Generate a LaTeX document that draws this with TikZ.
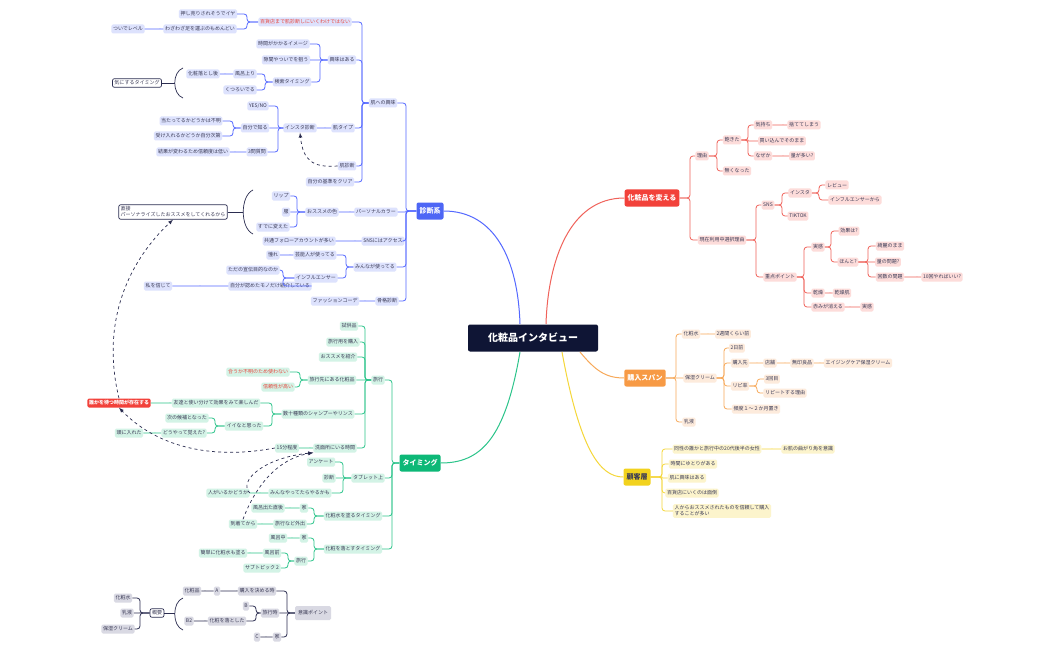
\documentclass[tikz,border=0pt]{standalone}
\usepackage{fontspec}
\setmainfont{Noto Sans CJK JP}
\usetikzlibrary{calc}
\definecolor{BL}{HTML}{5468FF}\definecolor{BF}{HTML}{DDE2FD}\definecolor{BM}{HTML}{4D66F5}
\definecolor{RL}{HTML}{F0625A}\definecolor{RF}{HTML}{FDDCDA}\definecolor{RM}{HTML}{F2413A}
\definecolor{OL}{HTML}{F7A95A}\definecolor{OF}{HTML}{FDEBDC}\definecolor{OM}{HTML}{F79A45}
\definecolor{YL}{HTML}{F5D73A}\definecolor{YF}{HTML}{FCF4CC}\definecolor{YM}{HTML}{F2D21E}
\definecolor{GL}{HTML}{2BC48A}\definecolor{GF}{HTML}{D3F3E6}\definecolor{GM}{HTML}{0DB877}
\definecolor{KL}{HTML}{2B2D50}\definecolor{KF}{HTML}{D9D9E3}\definecolor{CC}{HTML}{0F1535}
\definecolor{TX}{HTML}{3A3A55}\definecolor{TR}{HTML}{E8453C}
\newcommand\Lk[4]{\draw[#1] let \p1=(#2.west),\p2=(#3.east),\n1={abs(\y1-\y2)<1.5 ? 0.01 : 3} in [rounded corners=\n1] (\p1) -- (#4pt,\y1) -- (#4pt,\y2) -- (\p2);}
\newcommand\Rk[4]{\draw[#1] let \p1=(#2.east),\p2=(#3.west),\n1={abs(\y1-\y2)<1.5 ? 0.01 : 3} in [rounded corners=\n1] (\p1) -- (#4pt,\y1) -- (#4pt,\y2) -- (\p2);}
\begin{document}
\begin{tikzpicture}[x=1pt,y=-1pt,
 nd/.style={rounded corners=1.5pt,inner sep=1.6pt,minimum height=9pt,text=TX,font=\fontsize{5}{6}\selectfont},
 bn/.style={nd,fill=BF}, rn/.style={nd,fill=RF}, on/.style={nd,fill=OF}, yn/.style={nd,fill=YF}, gn/.style={nd,fill=GF}, kn/.style={nd,fill=KF},
 tr/.style={text=TR},
 mn/.style={rounded corners=2pt,inner sep=3pt,minimum height=17pt,text=white,font=\fontsize{7}{8}\selectfont\bfseries},
 bx/.style={draw=KL,line width=0.7pt,rounded corners=2pt,fill=white,inner sep=2pt,text=TX,font=\fontsize{5}{6}\selectfont},
 bl/.style={draw=BL,line width=0.8pt},
 rl/.style={draw=RL,line width=0.8pt},
 ol/.style={draw=OL,line width=0.8pt},
 yl/.style={draw=YL,line width=0.8pt},
 gl/.style={draw=GL,line width=0.8pt},
 kl/.style={draw=KL,line width=0.8pt},
 da/.style={draw=KL,line width=0.7pt,dashed,-latex}]
\useasboundingbox[fill=white] (0,0) rectangle (1050,650);
% center
\node[fill=CC,text=white,rounded corners=2pt,minimum width=130pt,minimum height=27pt,font=\fontsize{10}{12}\selectfont\bfseries] (C) at (533,338) {化粧品インタビュー};
\node[mn,fill=BM] (D) at (430,211) {診断系};
\node[mn,fill=RM] (R) at (652,198) {化粧品を変える};
\node[mn,fill=OM] (O) at (645,378) {購入スパン};
\node[mn,fill=YM,text=TX] (Y) at (637,477) {顧客層};
\node[mn,fill=GM] (T) at (420,463) {タイミング};
\draw[BL,line width=1pt] (D.east) .. controls (495,211) and (518,260) .. (520,324);
\draw[RL,line width=1pt] (R.west) .. controls (570,198) and (548,260) .. (546,324);
\draw[OL,line width=1pt] (580,352) .. controls (595,370) and (605,378) .. (O.west);
\draw[YL,line width=1pt] (562,352) .. controls (580,450) and (600,477) .. (Y.west);
\draw[GL,line width=1pt] (520,352) .. controls (505,440) and (480,463) .. (T.east);
% ===== blue
\node[bn] (b1) at (383,103) {肌への興味};
\node[bn,tr] (b11) at (305,22) {百貨店まで肌診断しにいくわけではない};
\node[bn] (b111) at (208,14) {押し売りされそうでイヤ};
\node[bn] (b112) at (200,29) {わざわざ足を運ぶのもめんどい};
\node[bn] (b1121) at (128,29) {ついでレベル};
\node[bn] (b12) at (342,60) {興味はある};
\node[bn] (b121) at (283,44) {時間がかかるイメージ};
\node[bn] (b122) at (286,60) {隙間やついでを狙う};
\node[bn] (b123) at (292,82) {検索タイミング};
\node[bn] (b1231) at (245,74) {風呂上り};
\node[bn] (b12311) at (203,74) {化粧落とし後};
\node[bn] (b1232) at (240,90) {くつろいでる};
\node[bx] (kb1) at (137,83) {気にするタイミング};
\draw[KL,line width=0.7pt] (183,68) .. controls (172,72) and (172,94) .. (183,98);
\draw[KL,line width=0.7pt] (kb1.east) -- (175,83);
\node[bn] (b13) at (343,128) {肌タイプ};
\node[bn] (b131) at (300,128) {インスタ診断};
\node[bn] (b1311) at (258,106) {YES/NO};
\node[bn] (b1312) at (255,128) {自分で知る};
\node[bn] (b13121) at (191,121) {当たってるかどうかは不明};
\node[bn] (b13122) at (188,136) {受け入れるかどうか自分次第};
\node[bn] (b1313) at (257,152) {3問質問};
\node[bn] (b13131) at (193,152) {結果が変わるため信頼度は低い};
\node[bn] (b14) at (347,166) {肌診断};
\node[bn] (b15) at (330,182) {自分の基準をクリア};
\node[bn] (b2) at (376,212) {パーソナルカラー};
\node[bn] (b21) at (322,212) {おススメの色};
\node[bn] (b211) at (281,196) {リップ};
\node[bn] (b212) at (286,212) {服};
\node[bn] (b213) at (273,227) {すでに変えた};
\node[bx,align=left] (kb2) at (173,212) {直接\\パーソナライズしたおススメをしてくれるから};
\draw[KL,line width=0.7pt] (253,190) .. controls (240,196) and (240,228) .. (253,234);
\draw[KL,line width=0.7pt] (kb2.east) -- (243,212);
\node[bn] (b3) at (383,241) {SNSにはアクセス};
\node[bn] (b31) at (299,241) {共通フォローアカウントが多い};
\node[bn] (b4) at (375,267) {みんなが使ってる};
\node[bn] (b41) at (315,255) {芸能人が使ってる};
\node[bn] (b411) at (273,255) {憧れ};
\node[bn] (b42) at (316,278) {インフルエンサー};
\node[bn] (b421) at (253,270) {ただの宣伝目的なのか};
\node[bn] (b422) at (270,286) {自分が認めたモノだけ紹介している};
\node[bn] (b4221) at (158,286) {私を信じて};
\node[bn] (b5) at (387,301) {骨格診断};
\node[bn] (b51) at (335,301) {ファッションコーデ};
\foreach \c in {b1,b2,b3,b4,b5} {\Lk{bl}{D}{\c}{406}}
\foreach \c in {b11,b12,b13,b14,b15} {\Lk{bl}{b1}{\c}{362}}
\foreach \c in {b111,b112} {\Lk{bl}{b11}{\c}{247}}
\Lk{bl}{b112}{b1121}{160}
\foreach \c in {b121,b122,b123} {\Lk{bl}{b12}{\c}{320}}
\foreach \c in {b1231,b1232} {\Lk{bl}{b123}{\c}{265}}
\Lk{bl}{b1231}{b12311}{225}
\Lk{bl}{b13}{b131}{325}
\foreach \c in {b1311,b1312,b1313} {\Lk{bl}{b131}{\c}{278}}
\foreach \c in {b13121,b13122} {\Lk{bl}{b1312}{\c}{233}}
\Lk{bl}{b1313}{b13131}{235}
\Lk{bl}{b2}{b21}{350}
\foreach \c in {b211,b212,b213} {\Lk{bl}{b21}{\c}{297}}
\Lk{bl}{b3}{b31}{355}
\foreach \c in {b41,b42} {\Lk{bl}{b4}{\c}{346}}
\Lk{bl}{b41}{b411}{290}
\foreach \c in {b421,b422} {\Lk{bl}{b42}{\c}{283}}
\Lk{bl}{b422}{b4221}{200}
\Lk{bl}{b5}{b51}{365}
\draw[da] (b14.west) .. controls (312,168) and (303,160) .. (b131.south);
% ===== green
\node[gn] (g1) at (378,380) {旅行};
\node[gn] (g11) at (349,326) {試供品};
\node[gn] (g12) at (343,342) {旅行用を購入};
\node[gn] (g13) at (338,357) {おススメを紹介};
\node[gn] (g14) at (332,380) {旅行先にある化粧品};
\node[gn,tr] (g141) at (258,372) {合うか不明のため使わない};
\node[gn,tr] (g142) at (278,387) {信頼性が高い};
\node[gn] (g15) at (318,414) {数十種類のシャンプーやリンス};
\node[gn] (g151) at (216,403) {友達と使い分けて効果をみて楽しんだ};
\node[nd,fill=RM,text=white] (g1511) at (119,403) {\bfseries 誰かを待つ時間が存在する};
\node[gn] (g152) at (244,426) {イイなと思った};
\node[gn] (g1521) at (187,418) {次の候補となった};
\node[gn] (g1522) at (184,433) {どうやって覚えた?};
\node[gn] (g15221) at (129,433) {頭に入れた};
\node[gn] (g16) at (335,448) {洗面所にいる時間};
\node[gn] (g161) at (287,448) {15分程度};
\node[gn] (g2) at (368,478) {タブレット上};
\node[gn] (g21) at (321,462) {アンケート};
\node[gn] (g22) at (329,478) {診断};
\node[gn] (g23) at (300,493) {みんなやってたらやるかも};
\node[gn] (g231) at (228,493) {人がいるかどうか};
\node[gn] (g3) at (353,516) {化粧水を塗るタイミング};
\node[gn] (g31) at (304,508) {家};
\node[gn] (g311) at (268,508) {風呂出た直後};
\node[gn] (g32) at (290,524) {旅行など外出};
\node[gn] (g321) at (243,524) {到着てから};
\node[gn] (g4) at (353,549) {化粧を落とすタイミング};
\node[gn] (g41) at (304,538) {家};
\node[gn] (g411) at (278,538) {風呂中};
\node[gn] (g42) at (301,561) {旅行};
\node[gn] (g421) at (272,553) {風呂前};
\node[gn] (g4211) at (223,553) {簡単に化粧水も塗る};
\node[gn] (g422) at (262,568) {サブトピック 2};
\foreach \c in {g1,g2,g3,g4} {\Lk{gl}{T}{\c}{392}}
\foreach \c in {g11,g12,g13,g14,g15,g16} {\Lk{gl}{g1}{\c}{365}}
\foreach \c in {g141,g142} {\Lk{gl}{g14}{\c}{300}}
\foreach \c in {g151,g152} {\Lk{gl}{g15}{\c}{272}}
\Lk{gl}{g151}{g1511}{170}
\foreach \c in {g1521,g1522} {\Lk{gl}{g152}{\c}{215}}
\Lk{gl}{g1522}{g15221}{155}
\Lk{gl}{g16}{g161}{310}
\foreach \c in {g21,g22,g23} {\Lk{gl}{g2}{\c}{343}}
\Lk{gl}{g23}{g231}{260}
\foreach \c in {g31,g32} {\Lk{gl}{g3}{\c}{314}}
\Lk{gl}{g31}{g311}{290}
\Lk{gl}{g32}{g321}{262}
\foreach \c in {g41,g42} {\Lk{gl}{g4}{\c}{314}}
\Lk{gl}{g41}{g411}{292}
\foreach \c in {g421,g422} {\Lk{gl}{g42}{\c}{288}}
\Lk{gl}{g421}{g4211}{250}
\draw[da] (g161.west) .. controls (200,462) and (150,440) .. (g1511.south);
\draw[da] (g1511.north) .. controls (100,320) and (130,260) .. (kb2.south);
\draw[da] (g231.east) .. controls (238,482) and (262,458) .. (g16.south west);
\draw[da] (g321.north) .. controls (252,495) and (272,460) .. (g16.south west);
% ===== gray
\node[kn,minimum height=14pt,inner sep=3pt] (K) at (313,613) {意識ポイント};
\node[kn] (k1) at (257,591) {購入を決める時};
\node[kn] (k11) at (217,591) {A};
\node[kn] (k111) at (192,591) {化粧品};
\node[kn] (k2) at (270,613) {旅行時};
\node[kn] (k21) at (246,606) {B};
\node[kn] (k22) at (227,621) {化粧を落とした};
\node[kn] (k221) at (189,621) {B2};
\node[kn] (k3) at (277,637) {家};
\node[kn] (k31) at (257,637) {C};
\node[bx] (kz) at (157,613) {概要};
\node[kn] (kz1) at (123,598) {化粧水};
\node[kn] (kz2) at (127,613) {乳液};
\node[kn] (kz3) at (118,629) {保湿クリーム};
\foreach \c in {k1,k2,k3} {\Lk{kl}{K}{\c}{287}}
\Lk{kl}{k1}{k11}{237}
\Lk{kl}{k11}{k111}{205}
\foreach \c in {k21,k22} {\Lk{kl}{k2}{\c}{256}}
\Lk{kl}{k22}{k221}{205}
\Lk{kl}{k3}{k31}{266}
\foreach \c in {kz1,kz2,kz3} {\Lk{kl}{kz}{\c}{140}}
\draw[KL,line width=0.7pt] (183,598) .. controls (172,602) and (172,626) .. (183,630);
\draw[KL,line width=0.7pt] (kz.east) -- (175,613);
% ===== red
\node[rn] (r1) at (702,156) {理由};
\node[rn] (r11) at (732,140) {飽きた};
\node[rn] (r111) at (763,125) {気持ち};
\node[rn] (r1111) at (804,125) {捨ててしまう};
\node[rn] (r112) at (782,141) {買い込んでそのまま};
\node[rn] (r113) at (763,156) {なぜか};
\node[rn] (r1131) at (802,156) {量が多い?};
\node[rn] (r12) at (737,171) {無くなった};
\node[rn] (r2) at (722,240) {現在利用中選択理由};
\node[rn] (r21) at (768,205) {SNS};
\node[rn] (r211) at (800,193) {インスタ};
\node[rn] (r2111) at (837,185) {レビュー};
\node[rn] (r2112) at (855,200) {インフルエンサーから};
\node[rn] (r212) at (798,216) {TIKTOK};
\node[rn] (r22) at (780,277) {重点ポイント};
\node[rn] (r221) at (818,247) {実感};
\node[rn] (r2211) at (849,231) {効果は?};
\node[rn] (r2212) at (848,262) {ほんと?};
\node[rn] (r22121) at (890,246) {綺麗のまま};
\node[rn] (r22122) at (888,262) {量の問題?};
\node[rn] (r22123) at (890,277) {回数の問題};
\node[rn] (r221231) at (942,277) {10回やればいい?};
\node[rn] (r222) at (818,293) {乾燥};
\node[rn] (r2221) at (842,293) {乾燥肌};
\node[rn] (r223) at (828,307) {赤みが消える};
\node[rn] (r2231) at (867,307) {実感};
\foreach \c in {r1,r2} {\Rk{rl}{R}{\c}{690}}
\foreach \c in {r11,r12} {\Rk{rl}{r1}{\c}{717}}
\foreach \c in {r111,r112,r113} {\Rk{rl}{r11}{\c}{748}}
\Rk{rl}{r111}{r1111}{783}
\Rk{rl}{r113}{r1131}{783}
\foreach \c in {r21,r22} {\Rk{rl}{r2}{\c}{756}}
\foreach \c in {r211,r212} {\Rk{rl}{r21}{\c}{782}}
\foreach \c in {r2111,r2112} {\Rk{rl}{r211}{\c}{819}}
\foreach \c in {r221,r222,r223} {\Rk{rl}{r22}{\c}{804}}
\foreach \c in {r2211,r2212} {\Rk{rl}{r221}{\c}{831}}
\foreach \c in {r22121,r22122,r22123} {\Rk{rl}{r2212}{\c}{868}}
\Rk{rl}{r22123}{r221231}{917}
\Rk{rl}{r222}{r2221}{830}
\Rk{rl}{r223}{r2231}{850}
% ===== orange
\node[on] (o1) at (691,334) {化粧水};
\node[on] (o11) at (733,334) {2週間くらい前};
\node[on] (o2) at (700,378) {保湿クリーム};
\node[on] (o21) at (737,348) {2日前};
\node[on] (o22) at (740,363) {購入先};
\node[on] (o221) at (770,363) {店舗};
\node[on] (o2211) at (802,363) {無印良品};
\node[on] (o22111) at (858,363) {エイジングケア保湿クリーム};
\node[on] (o23) at (740,386) {リピ率};
\node[on] (o231) at (772,379) {3回目};
\node[on] (o232) at (785,393) {リピートする理由};
\node[on] (o24) at (756,409) {頻度１～２か月置き};
\node[on] (o3) at (689,422) {乳液};
\foreach \c in {o1,o2,o3} {\Rk{ol}{O}{\c}{676}}
\Rk{ol}{o1}{o11}{708}
\foreach \c in {o21,o22,o23,o24} {\Rk{ol}{o2}{\c}{724}}
\Rk{ol}{o22}{o221}{757}
\Rk{ol}{o221}{o2211}{785}
\Rk{ol}{o2211}{o22111}{820}
\foreach \c in {o231,o232} {\Rk{ol}{o23}{\c}{757}}
% ===== yellow
\node[yn] (y1) at (717,449) {同性の誰かと旅行中の20代後半の女性};
\node[yn] (y11) at (808,449) {お肌の曲がり角を意識};
\node[yn] (y2) at (693,464) {時間にゆとりがある};
\node[yn] (y3) at (687,478) {肌に興味はある};
\node[yn] (y4) at (692,493) {百貨店にいくのは面倒};
\node[yn,align=left] (y5) at (722,511) {人からおススメされたものを信頼して購入\\することが多い};
\foreach \c in {y1,y2,y3,y4,y5} {\Rk{yl}{Y}{\c}{662}}
\Rk{yl}{y1}{y11}{772}
\end{tikzpicture}
\end{document}
